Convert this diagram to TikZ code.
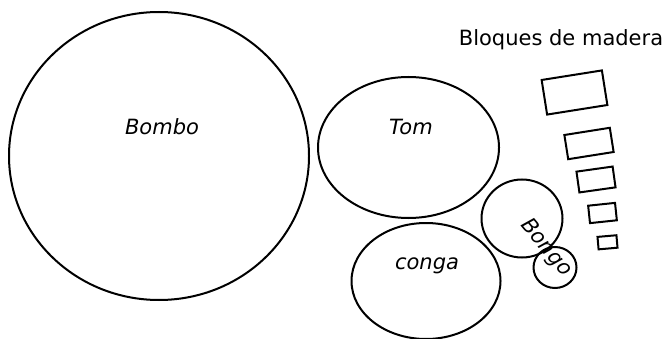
\documentclass[tikz,border=0pt]{standalone}
\usepackage{fontspec}
\setmainfont{DejaVu Sans}
\usetikzlibrary{shapes.geometric}
\tikzset{
  drum/.style={draw, ellipse, line width=2pt, inner sep=0pt, outer sep=0pt},
  block/.style={draw, rectangle, line width=2pt, inner sep=0pt, outer sep=0pt},
  lbl/.style={font=\fontsize{21}{24}\selectfont\itshape, inner sep=0pt},
}
\begin{document}
\begin{tikzpicture}[x=1pt,y=-1pt]
\useasboundingbox (0,0) rectangle (668,339);
% drums
\node[drum, minimum width=300pt, minimum height=288pt] (bombo) at (159,156) {};
\node[drum, minimum width=181pt, minimum height=141pt] (tom) at (408.5,147.5) {};
\node[drum, minimum width=149pt, minimum height=116pt] (conga) at (426,281) {};
\node[drum, minimum width=81pt, minimum height=78pt] (bongoA) at (522,218.5) {};
\node[drum, minimum width=43pt, minimum height=41pt] (bongoB) at (555,267.5) {};
% labels
\node[lbl] (lbombo) at (162,127) {Bombo};
\node[lbl] (ltom) at (411,127) {Tom};
\node[lbl] (lconga) at (427,266) {conga};
\node[lbl, rotate=-50] (lbongo) at (546,248) {Bongo};
% blocks
\node[font=\fontsize{21}{24}\selectfont, inner sep=0pt] (title) at (561,40) {Bloques de madera};
\node[block, minimum width=61pt, minimum height=35pt, rotate=9] (b1) at (574.5,92.5) {};
\node[block, minimum width=46pt, minimum height=24.5pt, rotate=9] (b2) at (589,143.5) {};
\node[block, minimum width=36.5pt, minimum height=21pt, rotate=8] (b3) at (596,179.5) {};
\node[block, minimum width=27pt, minimum height=17.5pt, rotate=6] (b4) at (602.5,213) {};
\node[block, minimum width=19pt, minimum height=12.5pt, rotate=5] (b5) at (607.5,242.3) {};
\end{tikzpicture}
\end{document}
